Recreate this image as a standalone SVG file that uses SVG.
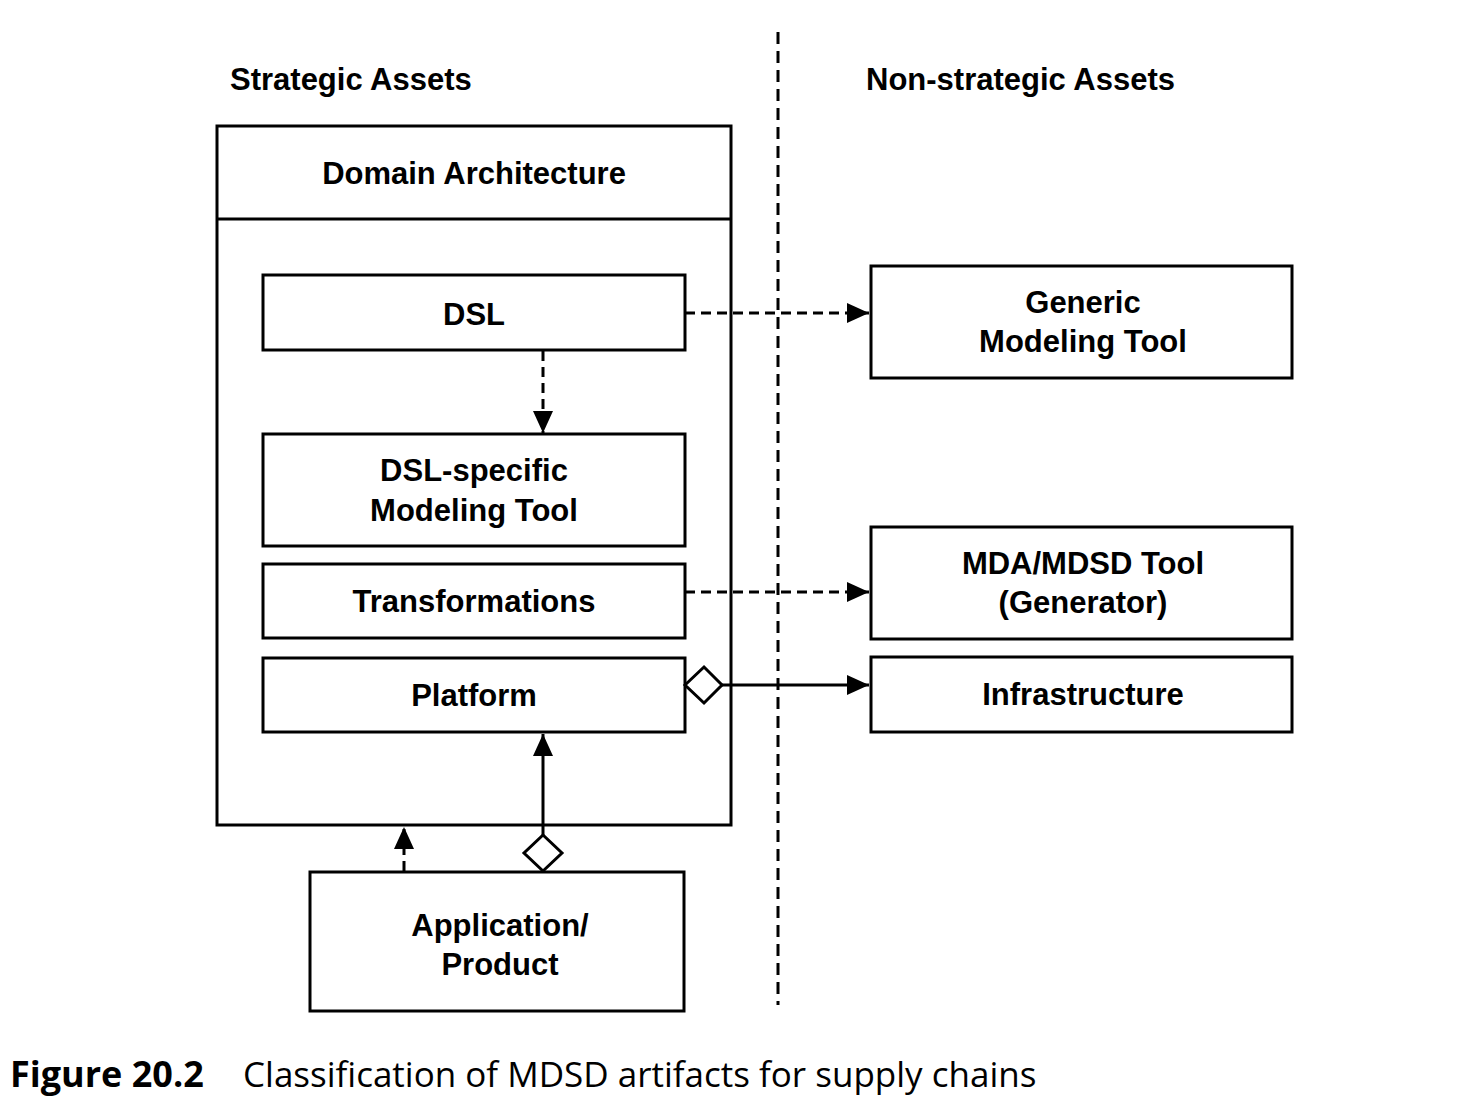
<svg xmlns="http://www.w3.org/2000/svg" width="1460" height="1106" viewBox="0 0 1460 1106">
<defs>
<style>
.box{fill:#fff;stroke:#000;stroke-width:3}
.t{font-family:"Liberation Sans",Arial,sans-serif;font-weight:bold;font-size:31px;fill:#000;text-anchor:middle}
.h{font-family:"Liberation Sans",Arial,sans-serif;font-weight:bold;font-size:31px;fill:#000}
.c{stroke:#000;stroke-width:3;fill:none}
.d{stroke-dasharray:10,6}
.dia{fill:#fff;stroke:#000;stroke-width:3}
</style>
<marker id="ah" markerWidth="22" markerHeight="20" refX="22" refY="10" orient="auto" markerUnits="userSpaceOnUse">
<path d="M0,0 L22,10 L0,20 Z" fill="#000"/>
</marker>
</defs>
<rect width="1460" height="1106" fill="#fff"/>
<line x1="778" y1="32" x2="778" y2="1005" stroke="#000" stroke-width="3" stroke-dasharray="12,7"/>
<text class="h" x="230" y="90">Strategic Assets</text>
<text class="h" x="866" y="90">Non-strategic Assets</text>

<g id="domain-architecture">
<rect class="box" x="217" y="126" width="514" height="699"/>
<line x1="217" y1="219" x2="731" y2="219" stroke="#000" stroke-width="3"/>
<text class="t" x="474" y="184">Domain Architecture</text>
</g>
<g id="dsl">
<rect class="box" x="263" y="275" width="422" height="75"/>
<text class="t" x="474" y="325">DSL</text>
</g>
<g id="dsl-tool">
<rect class="box" x="263" y="434" width="422" height="112"/>
<text class="t" x="474" y="481">DSL-specific</text>
<text class="t" x="474" y="521">Modeling Tool</text>
</g>
<g id="transformations">
<rect class="box" x="263" y="564" width="422" height="74"/>
<text class="t" x="474" y="612">Transformations</text>
</g>
<g id="platform">
<rect class="box" x="263" y="658" width="422" height="74"/>
<text class="t" x="474" y="706">Platform</text>
</g>
<g id="generic-tool">
<rect class="box" x="871" y="266" width="421" height="112"/>
<text class="t" x="1083" y="313">Generic</text>
<text class="t" x="1083" y="352">Modeling Tool</text>
</g>
<g id="mda-tool">
<rect class="box" x="871" y="527" width="421" height="112"/>
<text class="t" x="1083" y="574">MDA/MDSD Tool</text>
<text class="t" x="1083" y="613">(Generator)</text>
</g>
<g id="infrastructure">
<rect class="box" x="871" y="657" width="421" height="75"/>
<text class="t" x="1083" y="705">Infrastructure</text>
</g>
<g id="application">
<rect class="box" x="310" y="872" width="374" height="139"/>
<text class="t" x="500" y="936">Application/</text>
<text class="t" x="500" y="975">Product</text>
</g>

<g id="connectors">
<line class="c d" x1="685" y1="313" x2="869" y2="313" marker-end="url(#ah)"/>
<line class="c d" x1="543" y1="351" x2="543" y2="433" marker-end="url(#ah)"/>
<line class="c d" x1="685" y1="592" x2="869" y2="592" marker-end="url(#ah)"/>
<line class="c" x1="722" y1="685" x2="869" y2="685" marker-end="url(#ah)"/>
<path class="dia" d="M685,685 L704,667 L722,685 L704,703 Z"/>
<line class="c" x1="543" y1="835" x2="543" y2="734" marker-end="url(#ah)"/>
<path class="dia" d="M543,835 L562,853 L543,871 L524,853 Z"/>
<line class="c d" x1="404" y1="871" x2="404" y2="827" marker-end="url(#ah)"/>
</g>

<text x="10" y="1087" font-family="'Open Sans','Noto Sans',sans-serif" font-size="35" fill="#000"><tspan font-weight="bold" font-size="36">Figure 20.2</tspan><tspan x="243">Classification of MDSD artifacts for supply chains</tspan></text>
</svg>
